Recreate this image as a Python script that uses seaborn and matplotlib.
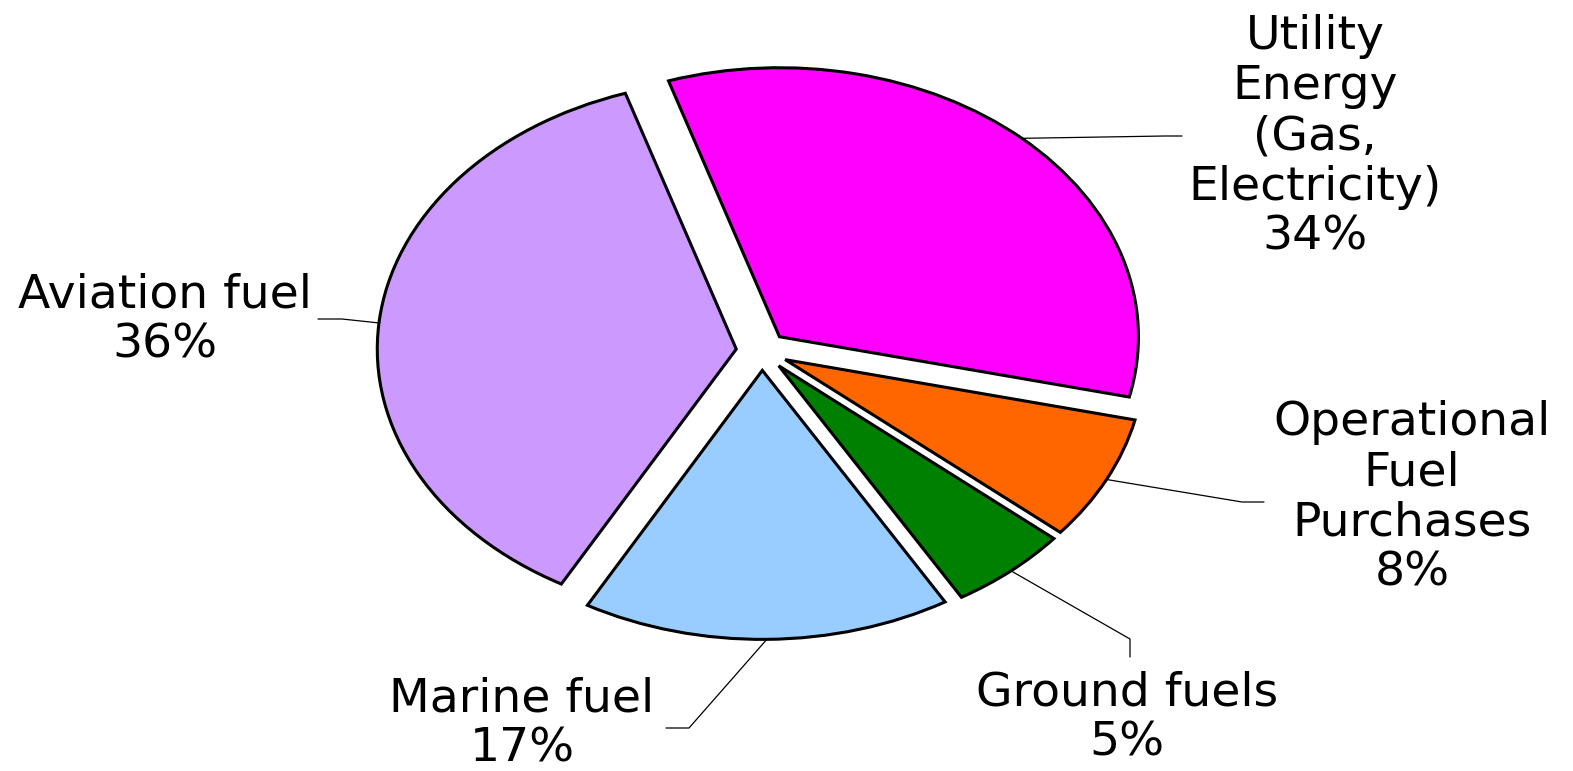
import numpy as np
import matplotlib
matplotlib.use("Agg")
import matplotlib.pyplot as plt
import seaborn as sns

sns.set_style("white")
# the reference text is a wide (stretched) sans, DejaVu Sans is the closest fit
plt.rcParams['font.family'] = ['DejaVu Sans']
plt.rcParams['text.color'] = 'black'

# Data
categories = ["Utility\nEnergy\n(Gas,\nElectricity)", "Operational\nFuel\nPurchases",
              "Ground fuels", "Marine fuel", "Aviation fuel"]
shares = [33.6, 7.5, 5.4, 16.6, 36.9]      # measured wedge sizes
pct_labels = [34, 8, 5, 17, 36]            # percentages as printed
colors = ["#FF00FF", "#FF6600", "#008000", "#99CCFF", "#CC99FF"]

# Layout (pixels of the 1573x771 canvas)
W, H = 1573, 771
CX, CY, RX, RY = 762, 351, 359, 269
elbows = [(1165, 136), (1242, 502), (1130, 639), (689, 728), (342, 319)]
ends = [(1182, 136), (1264, 502), (1130, 657), (666, 728), (318, 319)]
text_pos = [(1315, 137), (1412, 498), (1127, 718), (522, 724), (165, 320)]


def px(x, y):
    # pixel position -> data coords of the pie axes
    return (x - CX) / RX, (CY - y) / RY


fig = plt.figure(figsize=(W / 100, H / 100), dpi=100)
ax = fig.add_axes([0, 0, 1, 1])
wedges, _ = ax.pie(shares, colors=colors, startangle=108, counterclock=False,
                   explode=[0.072] * len(shares),
                   wedgeprops=dict(edgecolor="black", linewidth=2.2))
ax.set_aspect("auto")
ax.set_xlim(-CX / RX, (W - CX) / RX)
ax.set_ylim(-(H - CY) / RY, CY / RY)
ax.axis("off")

for w, cat, p, el, en, tp in zip(wedges, categories, pct_labels, elbows, ends, text_pos):
    th = np.deg2rad((w.theta1 + w.theta2) / 2)
    x0 = w.center[0] + w.r * np.cos(th)
    y0 = w.center[1] + w.r * np.sin(th)
    x1, y1 = px(*el)
    x2, y2 = px(*en)
    ax.plot([x0, x1, x2], [y0, y1, y2], color="black", lw=0.9)
    tx, ty = px(*tp)
    ax.text(tx, ty, f"{cat}\n{p}%", ha="center", va="center",
            fontsize=34, linespacing=1.15, color="black")

fig.savefig("out.png", dpi=100)
